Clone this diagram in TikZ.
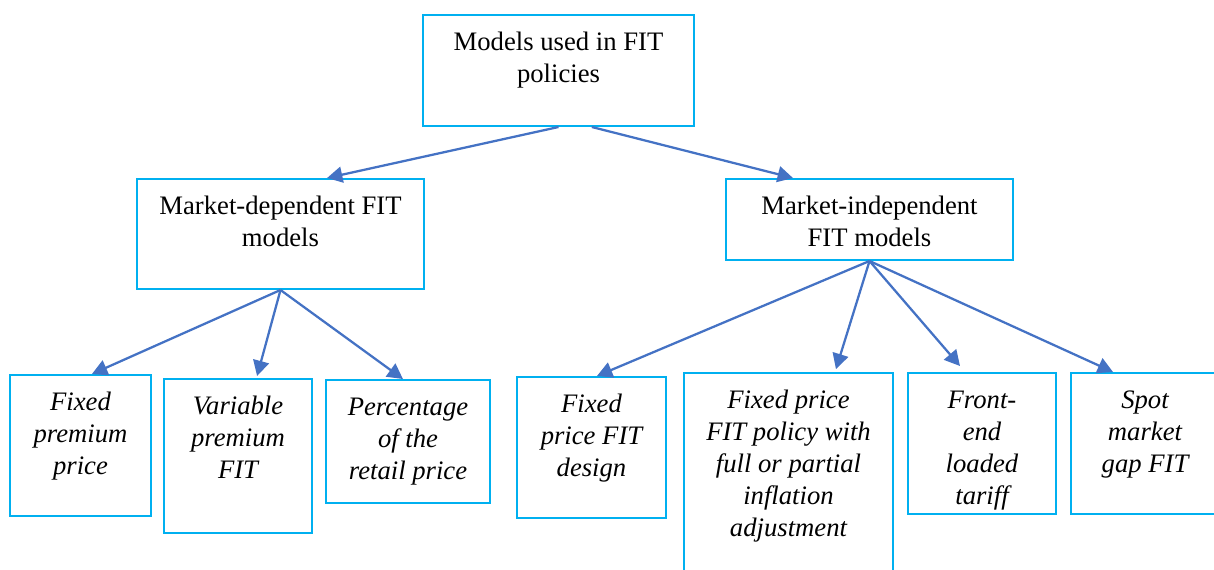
\documentclass[tikz,border=0pt]{standalone}
\usepackage{fontspec}
\setmainfont{Liberation Serif}
\usetikzlibrary{arrows.meta,fit}
\definecolor{boxcyan}{HTML}{00B0F0}
\definecolor{arrblue}{HTML}{4472C4}
\begin{document}
\begin{tikzpicture}[x=0.75pt,y=-0.75pt,
  box/.style={draw=boxcyan,line width=1.5pt,inner sep=0pt,rectangle},
  txt/.style={inner sep=0pt,align=center,font=\fontsize{20}{24}\selectfont,anchor=north},
  itxt/.style={txt,font=\fontsize{20}{24}\selectfont\itshape},
  arr/.style={draw=arrblue,line width=1.7pt,-{Triangle[length=11.5pt,width=12pt]}}]
\useasboundingbox (0,0) rectangle (1214,569);
\clip (0,0) rectangle (1214,569);

% boxes
\node[box,fit={(423,15) (694,126)}] (top) {};
\node[box,fit={(137,179) (424,289)}] (md) {};
\node[box,fit={(726,179) (1013,260)}] (mi) {};
\node[box,fit={(10,375) (151,516)}] (b1) {};
\node[box,fit={(164,379) (312,533)}] (b2) {};
\node[box,fit={(326,380) (490,503)}] (b3) {};
\node[box,fit={(517,377) (666,518)}] (b4) {};
\node[box,fit={(684,373) (893,600)}] (b5) {};
\node[box,fit={(908,373) (1056,514)}] (b6) {};
\node[box,fit={(1071,373) (1219,514)}] (b7) {};

% labels
\node[txt] (topt) at ([yshift=-10.5pt]top.north) {\strut Models used in FIT\\policies};
\node[txt] (mdt) at ([yshift=-10.5pt]md.north) {\strut Market-dependent FIT\\models};
\node[txt] (mit) at ([yshift=-10.5pt]mi.north) {\strut Market-independent\\FIT models};
\node[itxt] (b1t) at ([yshift=-10.5pt]b1.north) {\strut Fixed\\premium\\price};
\node[itxt] (b2t) at ([yshift=-10.5pt]b2.north) {\strut Variable\\premium\\FIT};
\node[itxt] (b3t) at ([yshift=-10.5pt]b3.north) {\strut Percentage\\of the\\retail price};
\node[itxt] (b4t) at ([yshift=-10.5pt]b4.north) {\strut Fixed\\price FIT\\design};
\node[itxt] (b5t) at ([yshift=-10.5pt]b5.north) {\strut Fixed price\\FIT policy with\\full or partial\\inflation\\adjustment};
\node[itxt] (b6t) at ([yshift=-10.5pt]b6.north) {\strut Front-\\end\\loaded\\tariff};
\node[itxt] (b7t) at ([yshift=-10.5pt]b7.north) {\strut Spot\\market\\gap FIT};

% connectors
\draw[arr] (top.south) -- ([xshift=34.9pt]md.north);
\draw[arr] ([xshift=25pt]top.south) -- ([xshift=-57.4pt]mi.north);
\draw[arr] (md.south) -- ([xshift=8.6pt]b1.north);
\draw[arr] (md.south) -- ([xshift=14.3pt,yshift=1.5pt]b2.north);
\draw[arr] (md.south) -- ([xshift=-3.8pt]b3.north);
\draw[arr] (mi.south) -- ([xshift=4.1pt]b4.north);
\draw[arr] (mi.south) -- ([xshift=35.6pt,yshift=2.2pt]b5.north);
\draw[arr] (mi.south) -- ([xshift=-16.5pt,yshift=4.5pt]b6.north);
\draw[arr] (mi.south) -- ([xshift=-24pt]b7.north);
\end{tikzpicture}
\end{document}
